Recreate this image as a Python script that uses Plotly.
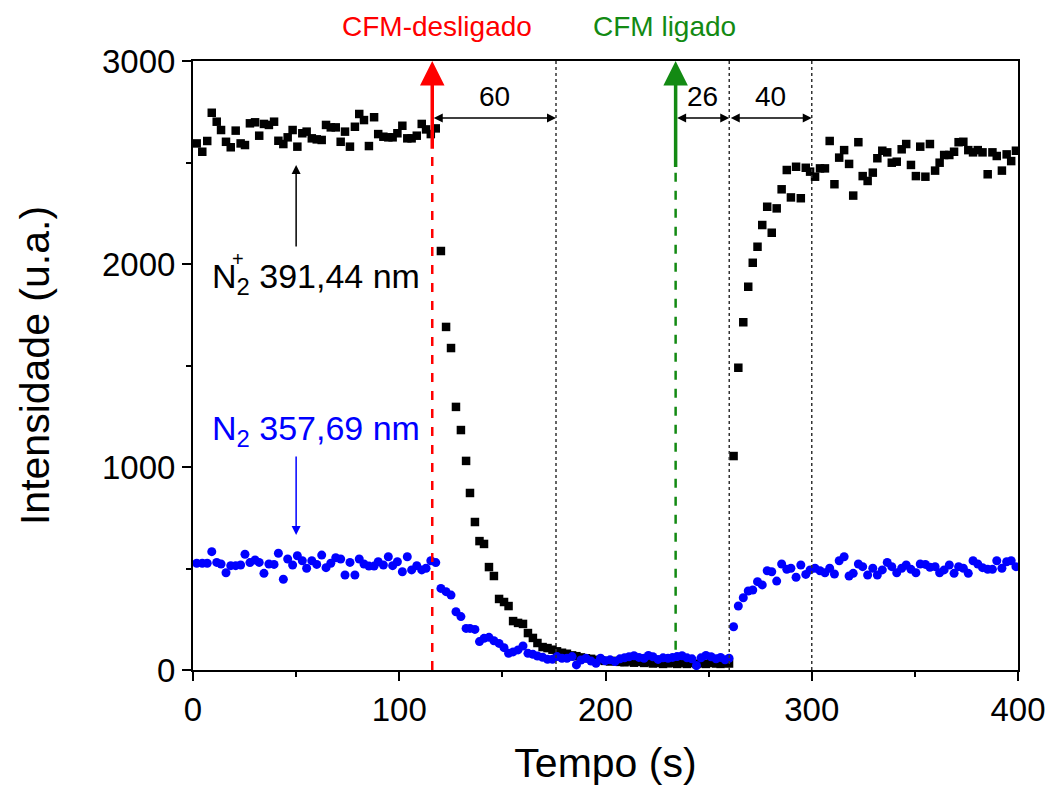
import plotly.graph_objects as go

# ---------------- data ----------------
time_before = [1.8, 4.5, 6.9, 9.1, 11.5, 13.6, 16.0, 18.3, 20.7, 23.1, 25.2, 27.6, 30.1, 32.1,
               34.4, 36.8, 39.3, 41.4, 43.8, 45.9, 48.3, 50.6, 53.0, 55.1, 57.6, 60.0, 62.4,
               64.5, 66.8, 69.2, 71.6, 73.7, 76.1, 78.5, 80.6, 82.9, 85.3, 87.8, 89.8, 92.3,
               94.7, 96.8, 99.1, 101.5, 103.9, 106.0, 108.5, 110.9, 113.0, 115.3, 117.7]
time_off = [120.2, 122.7, 125.1, 127.5, 129.9, 132.4, 134.3, 136.7, 138.9, 141.1,
            143.5, 145.9, 148.4, 150.8, 153.0, 155.2, 157.6, 160.0, 162.4, 164.8,
            167.0, 169.5, 171.9, 174.3, 176.5, 178.9, 181.3, 183.8, 185.9, 188.1,
            190.5, 193.0, 195.4, 197.6, 199.8, 202.2, 204.6, 207.0, 209.2, 211.4,
            213.8, 216.2, 218.7, 220.8, 223.0, 225.5, 227.9, 230.3, 232.5, 234.7,
            237.1, 239.5, 241.9, 244.1, 246.3, 248.7, 251.2, 253.6, 255.8, 258.0, 259.9]
time_on = [262.1, 264.4, 266.8, 269.2, 271.4, 273.7, 276.0, 278.4, 280.6, 283.0,
           285.4, 287.9, 289.9, 292.4, 294.7, 297.1, 299.2, 301.6, 304.0, 306.4,
           308.7, 311.0, 313.3, 315.7, 318.1, 320.1, 322.6, 324.7, 327.1, 329.6,
           331.8, 334.2, 336.6, 338.8, 341.2, 343.6, 345.8, 348.1, 350.5, 352.6,
           355.1, 357.3, 359.8, 362.0, 364.2, 366.7, 369.0, 371.2, 373.5, 375.9,
           378.2, 380.5, 382.8, 385.3, 387.6, 389.7, 392.2, 394.5, 396.7, 399.0]

n2plus_before = [2594, 2553, 2606, 2745, 2701, 2660, 2602, 2575, 2657, 2594,
                 2586, 2693, 2698, 2632, 2690, 2685, 2701, 2607, 2591, 2624,
                 2660, 2578, 2644, 2652, 2619, 2614, 2611, 2685, 2673, 2673,
                 2602, 2652, 2578, 2676, 2739, 2709, 2581, 2723, 2640, 2627,
                 2624, 2624, 2644, 2681, 2619, 2619, 2632, 2690, 2663, 2640, 2668]
n2plus_off = [2064, 1690, 1586, 1296, 1182, 1030, 872, 729, 635, 621,
              507, 463, 350, 335, 315, 241, 232, 227, 182, 158,
              133, 113, 108, 100, 92, 85, 80, 72, 68, 62,
              58, 55, 50, 48, 45, 42, 45, 40, 38, 42,
              36, 40, 35, 38, 32, 35, 30, 33, 35, 30,
              34, 30, 35, 30, 33, 30, 35, 32, 30, 35, 32]
n2plus_on = [1054, 1489, 1713, 1888, 2006, 2085, 2192, 2282, 2154, 2274,
             2368, 2463, 2328, 2479, 2324, 2474, 2455, 2430, 2471, 2471,
             2606, 2393, 2524, 2561, 2493, 2337, 2600, 2433, 2409, 2450,
             2521, 2558, 2550, 2499, 2504, 2565, 2591, 2488, 2433, 2578,
             2430, 2591, 2460, 2499, 2537, 2537, 2553, 2600, 2602, 2561,
             2550, 2561, 2550, 2442, 2550, 2532, 2460, 2540, 2507, 2558]

n2_before = [526, 526, 526, 583, 530, 522, 479, 514, 514, 517,
             570, 529, 542, 530, 476, 522, 520, 575, 447, 547,
             517, 563, 538, 501, 538, 520, 566, 504, 526, 553,
             547, 468, 530, 468, 547, 522, 512, 512, 533, 517,
             558, 514, 533, 484, 558, 493, 514, 493, 501, 538, 529]
n2_off = [402, 386, 369, 287, 263, 205, 205, 200, 140, 156,
          161, 144, 131, 110, 82, 89, 99, 118, 82, 77,
          69, 63, 53, 53, 66, 58, 58, 66, 25, 49,
          58, 44, 33, 58, 45, 50, 42, 55, 60, 65,
          70, 62, 58, 72, 65, 52, 60, 58, 62, 66,
          70, 60, 55, 22, 60, 72, 65, 55, 62, 50, 58]
n2_on = [213, 315, 356, 389, 394, 435, 419, 489, 484, 438,
         522, 496, 501, 457, 517, 471, 493, 501, 489, 479,
         501, 473, 538, 558, 463, 476, 522, 509, 468, 501,
         468, 493, 530, 509, 479, 501, 517, 496, 479, 522,
         520, 506, 509, 479, 493, 517, 476, 509, 501, 476,
         538, 522, 504, 496, 496, 538, 501, 533, 538, 509]

t_cfm_off = 116
t_off_end = 176
t_cfm_on = 234
t_on_delay = 260
t_on_end = 300

x_ticks = [0, 100, 200, 300, 400]
y_ticks = [0, 1000, 2000, 3000]

time = time_before + time_off + time_on
n2plus = n2plus_before + n2plus_off + n2plus_on
n2 = n2_before + n2_off + n2_on

FONT = "Liberation Sans, Arial, sans-serif"
RED = "#FF0000"
GREEN = "#138A13"
BLUE = "#0000FF"

fig = go.Figure()
fig.add_trace(go.Scatter(x=time, y=n2plus, mode="markers",
                         marker=dict(symbol="square", size=8.5, color="black"),
                         showlegend=False))
fig.add_trace(go.Scatter(x=time, y=n2, mode="markers",
                         marker=dict(symbol="circle", size=9, color=BLUE),
                         showlegend=False))

# vertical reference lines
for tx in [t_off_end, t_on_delay, t_on_end]:
    fig.add_shape(type="line", x0=tx, x1=tx, y0=0, y1=3000, xref="x", yref="y",
                  line=dict(color="#333333", width=1.5, dash="dot"))
fig.add_shape(type="line", x0=t_cfm_off, x1=t_cfm_off, y0=0, y1=2560, xref="x", yref="y",
              line=dict(color=RED, width=2.5, dash="dash"))
fig.add_shape(type="line", x0=t_cfm_on, x1=t_cfm_on, y0=100, y1=2470, xref="x", yref="y",
              line=dict(color=GREEN, width=2.5, dash="dash"))

ann = []
# big event arrows
ann.append(dict(x=t_cfm_off, y=3000, ax=t_cfm_off, ay=2560, xref="x", yref="y", axref="x", ayref="y",
                showarrow=True, arrowhead=2, arrowsize=1.4, arrowwidth=3.5, arrowcolor=RED, text=""))
ann.append(dict(x=t_cfm_on, y=3000, ax=t_cfm_on, ay=2470, xref="x", yref="y", axref="x", ayref="y",
                showarrow=True, arrowhead=2, arrowsize=1.4, arrowwidth=3.5, arrowcolor=GREEN, text=""))
# interval arrows
for a, b in [(t_cfm_off, t_off_end), (t_cfm_on, t_on_delay), (t_on_delay, t_on_end)]:
    ann.append(dict(x=b, y=2719, ax=a, ay=2719, xref="x", yref="y", axref="x", ayref="y",
                    showarrow=True, arrowhead=2, arrowside="end+start", arrowsize=1.2,
                    arrowwidth=1.5, arrowcolor="black", text=""))
for a, b in [(t_cfm_off, t_off_end), (t_cfm_on, t_on_delay), (t_on_delay, t_on_end)]:
    ann.append(dict(x=(a + b) / 2, y=2823, xref="x", yref="y", text=str(b - a), showarrow=False,
                    yanchor="middle", font=dict(size=28, color="black", family=FONT)))
# series arrows
ann.append(dict(x=50, y=2488, ax=50, ay=2079, xref="x", yref="y", axref="x", ayref="y",
                showarrow=True, arrowhead=2, arrowsize=1.2, arrowwidth=1.5, arrowcolor="black", text=""))
ann.append(dict(x=50, y=665, ax=50, ay=1059, xref="x", yref="y", axref="x", ayref="y",
                showarrow=True, arrowhead=2, arrowsize=1.2, arrowwidth=1.5, arrowcolor=BLUE, text=""))
# labels
ann.append(dict(x=8.2, y=1931, xref="x", yref="y", xanchor="left", yanchor="middle",
                text="N<sub>2</sub> 391,44 nm", showarrow=False,
                font=dict(size=34, color="black", family=FONT)))
ann.append(dict(x=22.0, y=2025, xref="x", yref="y", xanchor="center", yanchor="middle",
                text="+", showarrow=False, font=dict(size=20, color="black", family=FONT)))
ann.append(dict(x=8.2, y=1182, xref="x", yref="y", xanchor="left", yanchor="middle",
                text="N<sub>2</sub> 357,69 nm", showarrow=False,
                font=dict(size=34, color=BLUE, family=FONT)))
ann.append(dict(x=118.2, y=1.056, xref="x", yref="paper", yanchor="middle", text="CFM-desligado",
                showarrow=False, font=dict(size=28, color=RED, family=FONT)))
ann.append(dict(x=228.8, y=1.056, xref="x", yref="paper", yanchor="middle", text="CFM ligado",
                showarrow=False, font=dict(size=28, color=GREEN, family=FONT)))

axis_common = dict(showgrid=False, zeroline=False, showline=True, linecolor="black", linewidth=2,
                   mirror=True, ticks="outside", ticklen=9, tickwidth=2, tickcolor="black",
                   automargin=False, tickfont=dict(size=33, color="black", family=FONT))

fig.update_layout(
    width=1049, height=789,
    margin=dict(l=193, r=31, t=61, b=119),
    plot_bgcolor="white", paper_bgcolor="white",
    annotations=ann,
    xaxis=dict(range=[0, 400], tickvals=x_ticks, **axis_common,
               minor=dict(dtick=50, ticks="outside", ticklen=5, tickwidth=2, tickcolor="black"),
               title=dict(text="Tempo (s)", font=dict(size=41, color="black", family=FONT), standoff=22)),
    yaxis=dict(range=[0, 3000], tickvals=y_ticks, **axis_common,
               minor=dict(dtick=500, ticks="outside", ticklen=5, tickwidth=2, tickcolor="black"),
               title=dict(text="Intensidade (u.a.)", font=dict(size=41, color="black", family=FONT), standoff=40)),
)

# remove the default page margin so the 1049x789 figure fills the window exactly
fig.write_html("out.html",
               config={"displayModeBar": False},
               post_script="document.body.style.margin='0';document.body.style.overflow='hidden';")
